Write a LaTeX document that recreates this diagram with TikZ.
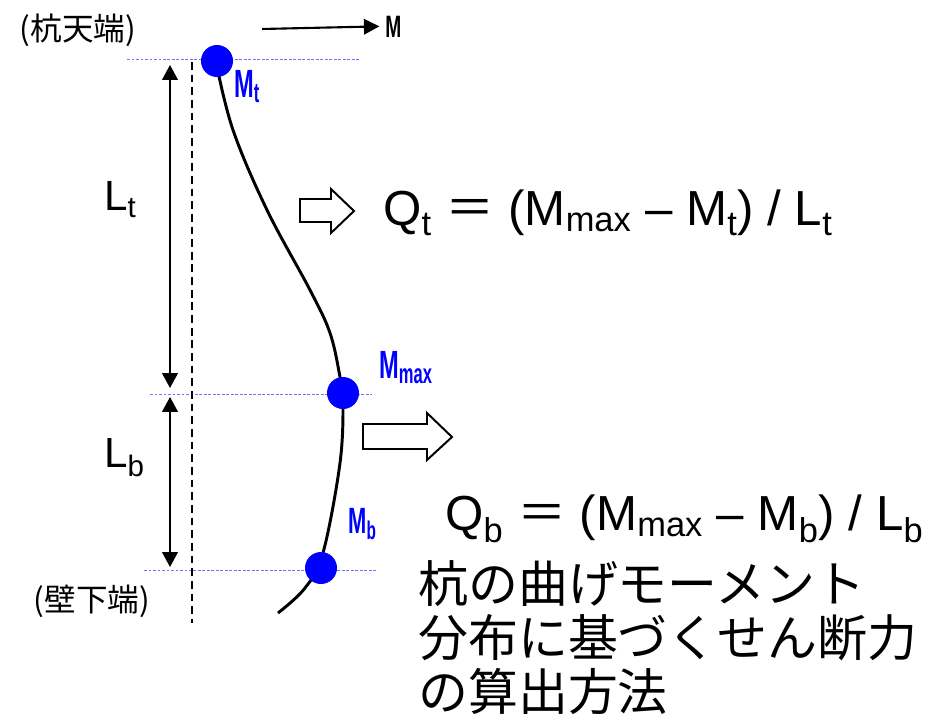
\documentclass[tikz,border=0pt]{standalone}
\usepackage{fontspec}
\setmainfont{Liberation Sans}
\newfontfamily\cjk{Noto Sans CJK JP}
\usepackage{xcolor}
\usepackage{graphicx}
\usepackage{tikz}
\usetikzlibrary{arrows.meta,positioning}
\definecolor{mblue}{HTML}{0000FF}
\definecolor{guideblue}{HTML}{7373FF}
\newcommand{\narrowtext}[2][0.6]{\scalebox{#1}[1]{#2}}
\tikzset{
  pile/.style={line width=2.1pt,draw=black},
  axisline/.style={line width=1.4pt,dash pattern=on 5.5pt off 3.5pt},
  guide/.style={line width=0.6pt,draw=guideblue,dash pattern=on 1.8pt off 1.4pt},
  dim/.style={{Triangle[length=10.5pt,width=11pt]}-{Triangle[length=10.5pt,width=11pt]},line width=1.5pt},
  force/.style={-{Triangle[length=11pt,width=11pt]},line width=1.5pt},
  mdot/.style={circle,fill=mblue,minimum size=0.8cm,inner sep=0pt},
  hollow/.style={draw=black,fill=white,line width=1.4pt,line join=miter},
  mlabel/.style={inner sep=0pt,anchor=base west,text=mblue,font=\bfseries\fontsize{28}{30}\selectfont},
  jlabel/.style={inner sep=0pt,font=\cjk\fontsize{22.5}{24}\selectfont},
  llabel/.style={inner sep=0pt,anchor=base west,font=\fontsize{30}{32}\selectfont},
  formula/.style={inner sep=0pt,anchor=base west,font=\fontsize{35}{37}\selectfont},
  note/.style={inner sep=0pt,anchor=north west,align=left,font=\cjk\fontsize{35.5}{38.5}\selectfont},
}

\begin{document}
\begin{tikzpicture}[x=0.025cm,y=-0.025cm]
\useasboundingbox (0,0) rectangle (942,723);

% level lines
\draw[guide] (127,59) coordinate (gt-l) -- (360,59) coordinate (gt-r);
\draw[guide] (150,394) coordinate (gm-l) -- (372,394) coordinate (gm-r);
\draw[guide] (144,570) coordinate (gb-l) -- (377,570) coordinate (gb-r);

% pile axis
\coordinate (ax-top) at (192,62);
\coordinate (ax-bot) at (192,623);
\draw[axisline] (ax-top) -- (ax-bot);

% dimensions
\coordinate (lt-top) at (170,65);
\coordinate (lt-bot) at (170,388);
\coordinate (lb-top) at (170,397);
\coordinate (lb-bot) at (170,567);
\draw[dim] (lt-top) -- (lt-bot);
\draw[dim] (lb-top) -- (lb-bot);
\node[llabel] (lt) at (104,210) {L\textsubscript{t}};
\node[llabel] (lb) at (104,467) {L\textsubscript{b}};

% deflected pile
\draw[pile] plot[smooth,tension=0.6] coordinates {(216,62) (233,130) (267,210) (310,290)
  (330,333) (340,377) (343,400) (340,463) (323,553) (305,588) (278,613)};
\node[mdot] (mt) at (217,61) {};
\node[mdot] (mmax) at (343,393) {};
\node[mdot] (mb) at (321,568) {};

\node[mlabel] (mt-lab) at (234,97) {\narrowtext{M\textsubscript{t}}};
\node[mlabel] (mmax-lab) at (379,378) {\narrowtext{M\textsubscript{max}}};
\node[mlabel,font=\bfseries\fontsize{26}{28}\selectfont] (mb-lab) at (348,533) {\narrowtext{M\textsubscript{b}}};

% ends
\node[jlabel] (top-end) at (78,30) {(杭天端)};
\node[jlabel] (bot-end) at (92,601) {(壁下端)};

% applied moment
\coordinate (m-start) at (262,29);
\node[inner sep=0pt,anchor=base west,font=\bfseries\fontsize{22}{24}\selectfont] (m-lab) at (385,37) {\narrowtext[0.62]{M}};
\draw[force] (m-start) -- ([xshift=-4pt]m-lab.west);

% shear force
\draw[hollow] (300,199) -- (331,199) -- (331,189) -- (354,211) -- (331,233) -- (331,222) -- (300,222) -- cycle;
\draw[hollow] (363,424) -- (427,424) -- (427,413) -- (452,437) -- (427,460) -- (427,449) -- (363,449) -- cycle;
\node[formula] (qt) at (383,225) {Q\textsubscript{t} {\cjk ＝} (M\textsubscript{max} – M\textsubscript{t}) / L\textsubscript{t}};
\node[formula] (qb) at (445,530) {Q\textsubscript{b} {\cjk ＝} (M\textsubscript{max} – M\textsubscript{b}) / L\textsubscript{b}};

\node[note] (caption) at (418,560) {杭の曲げモーメント\\分布に基づくせん断力\\の算出方法};
\end{tikzpicture}
\end{document}
